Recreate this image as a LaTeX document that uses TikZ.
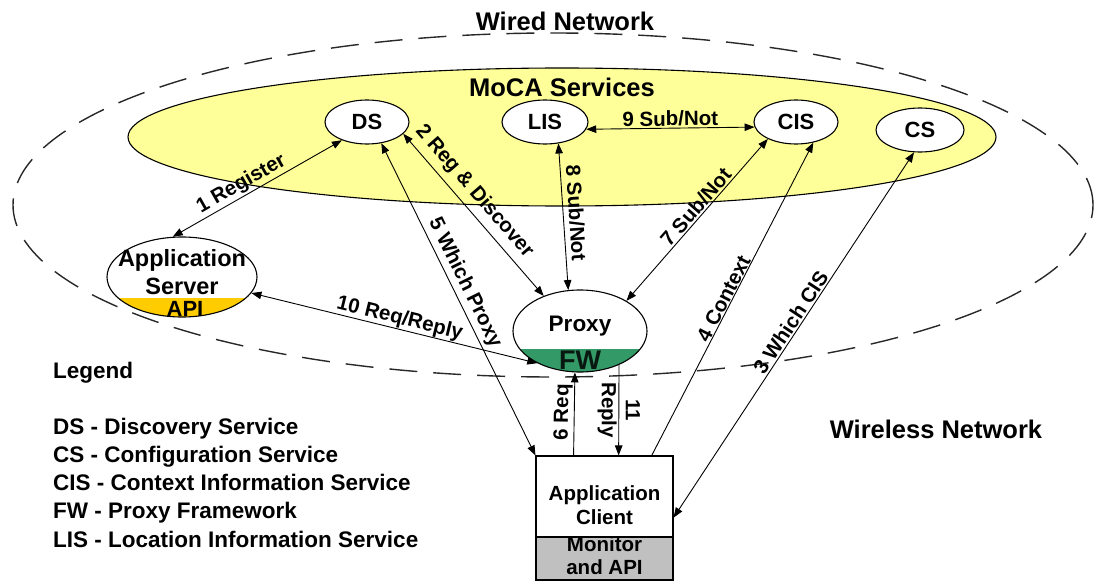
\documentclass[tikz,border=0pt]{standalone}
\usepackage{fontspec}
\setmainfont{Liberation Sans}
\usetikzlibrary{arrows.meta,shapes.geometric}

\definecolor{mocayellow}{RGB}{255,255,153}
\definecolor{apigold}{RGB}{255,204,0}
\definecolor{fwgreen}{RGB}{51,153,102}
\definecolor{monitorgray}{RGB}{192,192,192}
\definecolor{netgray}{RGB}{40,40,40}

\tikzset{
  svc/.style={ellipse, draw, fill=white, line width=1.1pt, minimum height=44pt,
    inner sep=0pt, font=\fontsize{22}{24}\selectfont\bfseries},
  bigtitle/.style={font=\fontsize{25.5}{28}\selectfont\bfseries, inner sep=0pt},
  boxtext/.style={align=center, inner sep=0pt},
  tipA/.tip={Triangle[length=10pt,width=7.5pt]},
  msg/.style={line width=0.9pt, tipA-tipA},
  oneway/.style={line width=0.9pt, -tipA},
  lbl/.style={font=\fontsize{20.5}{22}\selectfont\bfseries, sloped, above, inner sep=1.5pt},
  legendtext/.style={font=\fontsize{22.5}{28.2}\selectfont\bfseries, align=left, inner sep=0pt, anchor=base west}
}

\begin{document}
\begin{tikzpicture}[x=1pt,y=-1pt]
\useasboundingbox (0,0) rectangle (1094,583);

% network boundaries
\node[ellipse, draw=netgray, line width=1.4pt, dash pattern=on 28pt off 16pt,
      minimum width=1080pt, minimum height=344pt, inner sep=0pt] (wired) at (553,205) {};
\node[ellipse, draw, fill=mocayellow, line width=1.1pt,
      minimum width=868pt, minimum height=138pt, inner sep=0pt] (moca) at (562,137) {};

\node[bigtitle] (wiredtitle) at (565,21) {Wired Network};
\node[bigtitle] (mocatitle) at (562,87) {MoCA Services};
\node[bigtitle] (wirelesstitle) at (936,429) {Wireless Network};

% MoCA services
\node[svc, minimum width=84pt] (ds) at (367,122) {DS};
\node[svc, minimum width=86pt] (lis) at (545,122) {LIS};
\node[svc, minimum width=84pt] (cis) at (796,122) {CIS};
\node[svc, minimum width=88pt] (cs) at (920,130) {CS};

% application server with its API segment
\node[ellipse, draw, fill=white, line width=1.1pt, minimum width=150pt, minimum height=80pt,
      inner sep=0pt,
      path picture={\fill[apigold] ([yshift=-21pt]path picture bounding box.west)
                     rectangle (path picture bounding box.south east);}] (srv) at (182,277) {};
\node[boxtext, font=\fontsize{23.5}{28}\selectfont\bfseries] (srvname) at (182,272) {Application\\Server};
\node[boxtext, font=\fontsize{22}{24}\selectfont\bfseries] (api) at (185,309) {API};

% proxy with its framework segment
\node[ellipse, draw, fill=white, line width=1.1pt, minimum width=134pt, minimum height=82pt,
      inner sep=0pt,
      path picture={\fill[fwgreen] ([yshift=-18pt]path picture bounding box.west)
                     rectangle (path picture bounding box.south east);}] (proxy) at (580,331) {};
\node[boxtext, font=\fontsize{22.5}{24}\selectfont\bfseries] (proxyname) at (580,326) {Proxy};
\node[boxtext, font=\fontsize{27}{28}\selectfont\bfseries, text=black!85!fwgreen] (fw) at (580,360) {FW};

% application client
\node[draw, fill=white, line width=1.1pt, minimum width=137pt, minimum height=81pt, inner sep=0pt] (client) at (604.5,496.5) {};
\node[draw, fill=monitorgray, line width=1.1pt, minimum width=137pt, minimum height=43pt, inner sep=0pt] (monitor) at (604.5,558.5) {};
\node[boxtext, font=\fontsize{20.5}{24}\selectfont\bfseries] (clientname) at (604.5,505) {Application\\Client};
\node[boxtext, font=\fontsize{20.5}{23}\selectfont\bfseries] (monitorname) at (604.5,556) {Monitor\\and API};

% message flows
\draw[msg] (srv.103) -- node[lbl, pos=0.44] {1 Register} (ds.216);
\draw[msg] (ds.-18) -- node[lbl, pos=0.42, inner sep=6pt] {2 Reg \& Discover} (proxy.136);
\draw[msg] (client.-17) -- node[lbl, pos=0.52] {3 Which CIS} (cs.-105);
\draw[oneway] (client.41.7) -- node[lbl, pos=0.49, inner sep=0.5pt] {4 Context} (cis.-50);
\draw[msg] (ds.-56) -- node[lbl, pos=0.466, inner sep=3pt] {5 Which Proxy} (client.north west);
\draw[oneway] (client.127) -- node[lbl, pos=0.52] {6 Req} (proxy.-97);
\draw[msg] (proxy.33) -- node[lbl, pos=0.54] {7 Sub/Not} (cis.211);
\draw[msg] (lis.-58) -- node[lbl, pos=0.48, inner sep=5pt] {8 Sub/Not} (proxy.106);
\draw[msg] (lis.-10) -- node[lbl, pos=0.5] {9 Sub/Not} (cis.187);
\draw[msg] (srv.-13) -- node[lbl, pos=0.51, inner sep=0.5pt] {10 Req/Reply} (proxy.217);
\draw[oneway] (proxy.-41.8) -- node[rotate=-90, align=center, inner sep=0pt,
      font=\fontsize{20.5}{24}\selectfont\bfseries] (replylbl) {11\\Reply} (client.71.6);

% legend (a multi-line node sits on the baseline of its last line)
\node[legendtext] (legendhead) at (53,378) {Legend};
\node[legendtext] (legendbody) at (53,547) {DS - Discovery Service\\
CS - Configuration Service\\
CIS - Context Information Service\\
FW - Proxy Framework\\
LIS - Location Information Service};
\end{tikzpicture}
\end{document}
